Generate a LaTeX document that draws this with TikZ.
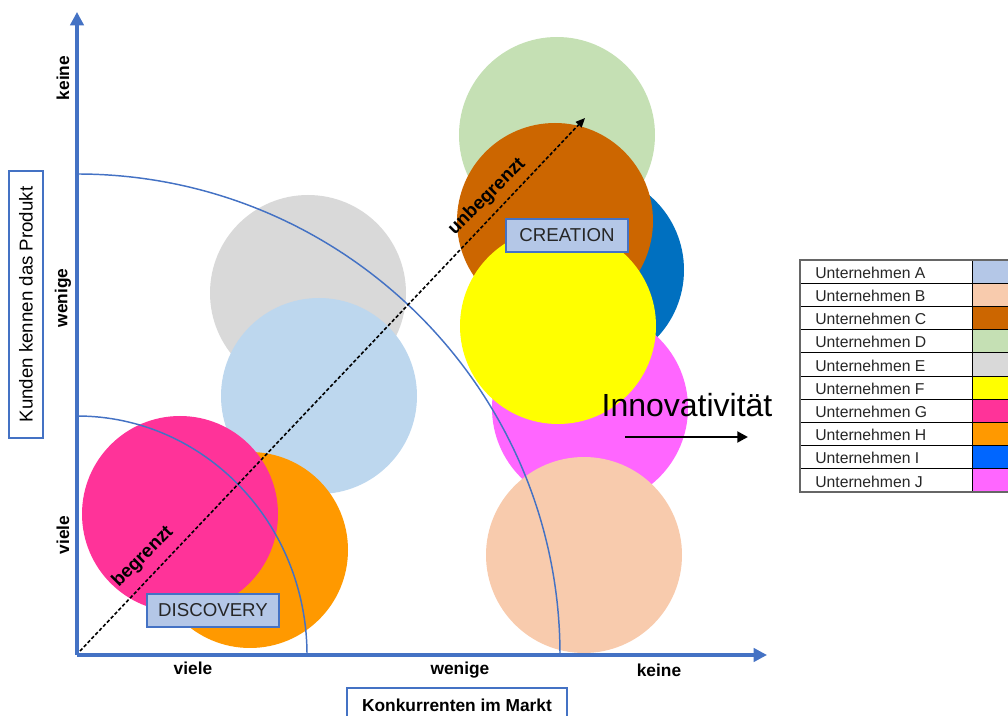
\documentclass[tikz,border=0pt]{standalone}
\usepackage{fontspec}
\setmainfont{Liberation Sans}
\usetikzlibrary{arrows.meta}
\definecolor{axisblue}{RGB}{68,114,196}
\definecolor{boxfill}{RGB}{180,199,231}
\definecolor{cA}{RGB}{189,215,238}
\definecolor{cAsw}{RGB}{180,199,231}
\definecolor{cB}{RGB}{248,203,173}
\definecolor{cC}{RGB}{204,102,0}
\definecolor{cD}{RGB}{197,224,180}
\definecolor{cE}{RGB}{217,217,217}
\definecolor{cF}{RGB}{255,255,0}
\definecolor{cG}{RGB}{255,51,153}
\definecolor{cH}{RGB}{255,153,0}
\definecolor{cI}{RGB}{0,112,192}
\definecolor{cIsw}{RGB}{0,102,255}
\definecolor{cJ}{RGB}{255,102,255}
\definecolor{txtdark}{RGB}{38,38,38}
\tikzset{
  bubble/.style={circle, minimum size=147pt, inner sep=0pt, fill=#1},
  axis/.style={draw=axisblue, line width=2.4pt, -{Triangle[width=10pt,length=10pt]}},
  arcline/.style={draw=axisblue, line width=1.1pt},
  axlabel/.style={font=\fontsize{13}{15}\selectfont\bfseries, inner sep=0pt},
  diag/.style={line width=1.2pt, dash pattern=on 2.6pt off 1.6pt},
  diaglabel/.style={font=\fontsize{14}{16}\selectfont\bfseries, rotate=45, inner sep=0pt},
  zonebox/.style={draw=axisblue, line width=1pt, fill=boxfill, text=txtdark,
    font=\fontsize{14}{16}\selectfont, minimum height=24.75pt, inner sep=0pt},
  titlebox/.style={draw=axisblue, line width=1pt, fill=white, inner sep=0pt,
    font=\fontsize{14}{16}\selectfont},
  legtext/.style={font=\fontsize{11.8}{13}\selectfont, anchor=west, inner sep=0pt, text=txtdark},
  legcell/.style={draw=black, line width=0.6pt}
}
\begin{document}
\begin{tikzpicture}[x=0.75pt, y=-0.75pt]
\useasboundingbox (0,0) rectangle (1008,716);
\clip (0,0) rectangle (1008,716);

% left cluster of companies
\node[bubble=cE] (E) at (308,293) {};
\node[bubble=cA] (A) at (319,396) {};
\node[bubble=cH] (H) at (250,550) {};
\node[bubble=cG] (G) at (180,514) {};

% right cluster of companies
\node[bubble=cD] (D) at (557,135) {};
\node[bubble=cI] (I) at (586,270) {};
\node[bubble=cC] (C) at (555,221) {};
\node[bubble=cJ] (J) at (590,408) {};
\node[bubble=cF] (F) at (558,326) {};
\node[bubble=cB] (B) at (584,555) {};

% quarter arcs around the origin
\draw[arcline] (560,655) arc[start angle=0, end angle=-90, x radius=483, y radius=481];
\draw[arcline] (307,655) arc[start angle=0, end angle=-90, x radius=230, y radius=239];

% axes
\coordinate (O) at (77,655);
\coordinate (Ytop) at (77,12);
\coordinate (Xend) at (767,655);
\draw[axis] (O) -- (Ytop);
\draw[axis] (O) -- (Xend);

% diagonal from bounded to unbounded
\coordinate (dstart) at (80,651);
\coordinate (dend) at (585,118);
\draw[diag, -{Triangle[width=6pt,length=7pt]}] (dstart) -- (dend);
\node[diaglabel] (begr) at (143,557) {begrenzt};
\node[diaglabel] (unbegr) at (487,197) {unbegrenzt};

% zone labels
\node[zonebox, minimum width=99pt] (disc) at (213,610.5) {DISCOVERY};
\node[zonebox, minimum width=91.5pt] (crea) at (567,235.5) {CREATION};

% axis scale labels
\node[axlabel, rotate=90] (yk) at (63,78) {keine};
\node[axlabel, rotate=90] (yw) at (63,298) {wenige};
\node[axlabel, rotate=90] (yv) at (63,535) {viele};
\node[axlabel] (xv) at (193,668) {viele};
\node[axlabel] (xw) at (460,670) {wenige};
\node[axlabel] (xk) at (659,670) {keine};

% axis titles
\node[titlebox, rotate=90, minimum width=200.25pt, minimum height=25.5pt] (ytitle) at (26,304.5) {Kunden kennen das Produkt};
\node[titlebox, minimum width=165pt, minimum height=25.5pt, font=\fontsize{13}{15}\selectfont\bfseries] (xtitle) at (457,705) {Konkurrenten im Markt};

% innovation arrow
\node[font=\fontsize{24}{28}\selectfont, inner sep=0pt] (innov) at (687,405) {Innovativität};
\coordinate (iastart) at (625,437);
\coordinate (iaend) at (748,437);
\draw[line width=2.2pt, -{Triangle[width=8pt,length=8pt]}] (iastart) -- (iaend);

% legend table
\foreach \lab/\col [count=\i from 0] in {A/cAsw,B/cB,C/cC,D/cD,E/cE,F/cF,G/cG,H/cH,I/cIsw,J/cJ}{
  \pgfmathsetmacro{\ytop}{260+23.2*\i}
  \pgfmathsetmacro{\ybot}{260+23.2*(\i+1)}
  \pgfmathsetmacro{\ymid}{260+23.2*(\i+0.5)+1}
  \fill[\col] (972,\ytop) rectangle (1030,\ybot);
  \draw[legcell] (800,\ytop) rectangle (972,\ybot);
  \draw[legcell] (972,\ytop) rectangle (1030,\ybot);
  \node[legtext] (leg\lab) at (815,\ymid) {Unternehmen \lab};
}
\draw[draw=black!60, line width=1.2pt] (800,260) rectangle (1030,492);
\end{tikzpicture}
\end{document}
